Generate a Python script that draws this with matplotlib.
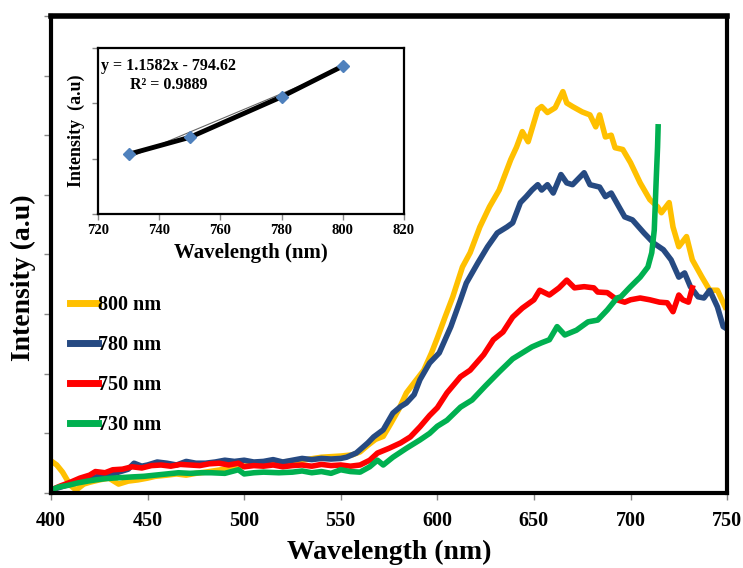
import numpy as np
import matplotlib
matplotlib.use("Agg")
import matplotlib.pyplot as plt

plt.rcParams['font.family'] = ['Liberation Serif', 'DejaVu Serif']
plt.rcParams['font.weight'] = 'bold'

# 800 nm excitation
wl_800 = [400, 403, 406, 410, 413, 417, 420, 425, 430, 435, 440, 445, 450, 454, 460, 465, 470, 475,
          480, 490, 500, 510, 520, 530, 540, 550, 556, 560, 564, 568, 572, 576, 580, 584, 588, 593,
          597, 600, 604, 608, 613, 617, 622, 627, 632, 638, 641, 644, 647, 652, 654, 657, 661, 665,
          667, 670, 675, 679, 682, 684, 687, 690, 692, 696, 700, 705, 710, 714, 716, 720, 722, 725,
          729, 732, 737, 741, 745, 749]
i_800 = [0.54, 0.47, 0.35, 0.13, 0.05, 0.15, 0.18, 0.22, 0.25, 0.15, 0.2, 0.22, 0.25, 0.28, 0.3,
         0.32, 0.3, 0.33, 0.35, 0.4, 0.45, 0.5, 0.52, 0.55, 0.6, 0.62, 0.64, 0.69, 0.8, 0.9, 0.95,
         1.17, 1.4, 1.68, 1.85, 2.06, 2.35, 2.6, 2.95, 3.29, 3.79, 4.03, 4.46, 4.8, 5.08, 5.59, 5.8,
         6.06, 5.89, 6.43, 6.48, 6.38, 6.46, 6.73, 6.54, 6.48, 6.39, 6.34, 6.14, 6.34, 5.97, 6.0,
         5.79, 5.76, 5.54, 5.2, 4.92, 4.8, 4.7, 4.87, 4.46, 4.13, 4.3, 3.91, 3.62, 3.4, 3.4, 3.12]

# 780 nm excitation
wl_780 = [400, 405, 410, 415, 420, 425, 430, 435, 440, 443, 447, 450, 455, 460, 465, 470, 475, 480,
          485, 490, 495, 500, 505, 510, 515, 520, 525, 530, 535, 540, 545, 550, 553, 558, 564, 567,
          572, 577, 581, 584, 588, 591, 596, 601, 607, 612, 615, 621, 626, 631, 636, 639, 643, 646,
          649, 652, 654, 657, 660, 664, 667, 670, 676, 679, 684, 687, 690, 694, 697, 701, 707, 712,
          717, 721, 725, 728, 731, 735, 738, 741, 745, 748, 750]
i_780 = [0.05, 0.1, 0.15, 0.2, 0.25, 0.28, 0.3, 0.35, 0.4, 0.5, 0.45, 0.47, 0.52, 0.5, 0.47, 0.53,
         0.5, 0.5, 0.52, 0.55, 0.53, 0.55, 0.52, 0.53, 0.56, 0.52, 0.55, 0.58, 0.56, 0.58, 0.57,
         0.58, 0.6, 0.67, 0.84, 0.94, 1.06, 1.34, 1.45, 1.51, 1.65, 1.9, 2.18, 2.35, 2.79, 3.24,
         3.52, 3.86, 4.13, 4.36, 4.46, 4.53, 4.87, 4.97, 5.08, 5.17, 5.08, 5.17, 5.03, 5.34, 5.2,
         5.17, 5.37, 5.17, 5.13, 4.97, 5.03, 4.8, 4.63, 4.58, 4.36, 4.19, 4.08, 3.91, 3.62, 3.69,
         3.46, 3.29, 3.27, 3.4, 3.12, 2.79, 2.75]

# 750 nm excitation
wl_750 = [400, 405, 410, 415, 420, 423, 428, 432, 437, 442, 447, 452, 457, 462, 467, 472, 477, 482,
          487, 492, 497, 500, 505, 510, 515, 520, 525, 530, 535, 540, 545, 550, 555, 560, 565, 569,
          575, 581, 586, 591, 596, 600, 605, 612, 617, 624, 629, 634, 639, 644, 650, 653, 658, 663,
          667, 671, 676, 681, 683, 688, 693, 697, 700, 705, 710, 715, 719, 722, 725, 727, 730, 732]
i_750 = [0.05, 0.12, 0.18, 0.25, 0.3, 0.36, 0.34, 0.39, 0.4, 0.44, 0.42, 0.46, 0.47, 0.45, 0.48,
         0.47, 0.46, 0.49, 0.5, 0.47, 0.5, 0.44, 0.46, 0.45, 0.47, 0.44, 0.46, 0.47, 0.45, 0.48,
         0.46, 0.47, 0.45, 0.47, 0.55, 0.67, 0.75, 0.84, 0.94, 1.11, 1.3, 1.43, 1.68, 1.95, 2.06,
         2.32, 2.57, 2.7, 2.95, 3.1, 3.24, 3.4, 3.32, 3.44, 3.57, 3.44, 3.46, 3.44, 3.37, 3.36,
         3.24, 3.2, 3.24, 3.27, 3.24, 3.2, 3.19, 3.04, 3.32, 3.24, 3.2, 3.44]

# 730 nm excitation
wl_730 = [400, 404, 409, 414, 419, 423, 428, 432, 437, 442, 448, 454, 460, 466, 472, 478, 483, 490,
          497, 500, 505, 510, 518, 525, 530, 535, 540, 545, 550, 555, 560, 565, 569, 572, 577, 584,
          591, 596, 600, 605, 612, 618, 625, 632, 639, 644, 649, 654, 658, 662, 666, 672, 678, 683,
          688, 693, 695, 700, 705, 709, 711, 712.3, 713.3, 714, 714.3]
i_730 = [0.05, 0.1, 0.13, 0.17, 0.2, 0.22, 0.24, 0.25, 0.26, 0.27, 0.28, 0.3, 0.32, 0.34, 0.33,
         0.34, 0.34, 0.33, 0.39, 0.32, 0.34, 0.35, 0.34, 0.35, 0.37, 0.34, 0.36, 0.33, 0.39, 0.36,
         0.35, 0.44, 0.55, 0.47, 0.6, 0.75, 0.89, 1.0, 1.12, 1.22, 1.44, 1.56, 1.8, 2.03, 2.25,
         2.35, 2.45, 2.52, 2.57, 2.79, 2.65, 2.73, 2.87, 2.9, 3.07, 3.27, 3.29, 3.46, 3.62, 3.79,
         4.03, 4.41, 5.25, 5.8, 6.14]

# inset: peak intensity vs excitation wavelength
ins_wl = [730, 750, 780, 800]
ins_int = [54, 69.3, 105.9, 133.7]
slope, intercept = 1.1582, -794.62

fig = plt.figure(figsize=(7.43, 5.68), dpi=100)
ax = fig.add_axes([0.0686, 0.132, 0.910, 0.840])

ax.plot(wl_800, i_800, color='#FFC000', lw=4, label='800 nm', solid_joinstyle='round')
ax.plot(wl_780, i_780, color='#264A82', lw=4, label='780 nm', solid_joinstyle='round')
ax.plot(wl_750, i_750, color='#FF0000', lw=4, label='750 nm', solid_joinstyle='round')
ax.plot(wl_730, i_730, color='#00B050', lw=4, label='730 nm', solid_joinstyle='round')

ax.set_xlim(400, 750)
ax.set_ylim(0, 8)
ax.set_xticks(np.arange(400, 751, 50))
ax.set_yticks(np.arange(0, 9, 1))
ax.set_yticklabels([])
ax.tick_params(axis='x', direction='out', length=5, width=1, color='#888888',
               labelsize=14.5, pad=8)
ax.tick_params(axis='y', direction='out', length=5, width=1, color='#888888')
for lab in ax.get_xticklabels():
    lab.set_fontweight('bold')
for s in ax.spines.values():
    s.set_linewidth(3)
ax.spines['top'].set_linewidth(4)

ax.set_xlabel('Wavelength (nm)', fontsize=20, fontweight='bold', labelpad=6)
ax.set_ylabel('Intensity (a.u)', fontsize=20, fontweight='bold')
ax.yaxis.set_label_coords(-0.022, 0.451)

leg = ax.legend(loc='upper left', bbox_to_anchor=(0.013, 0.437), frameon=False,
                handlelength=1.4, handletextpad=0.0, labelspacing=1.0,
                borderpad=0, prop={'weight': 'bold', 'size': 14.5})
for line in leg.get_lines():
    line.set_linewidth(5)

# inset
axi = fig.add_axes([0.1319, 0.6232, 0.4118, 0.2923])
tx = np.array([730, 800])
axi.plot(tx, slope * tx + intercept, color='#666666', lw=0.8)
axi.plot(ins_wl, ins_int, color='black', lw=3.5, solid_joinstyle='round')
axi.plot(ins_wl, ins_int, linestyle='none', marker='D', markersize=6,
         color='#4F81BD', markeredgecolor='#4F81BD')
axi.set_xlim(720, 820)
axi.set_ylim(0, 150)
axi.set_xticks(np.arange(720, 821, 20))
axi.set_yticks([0, 50, 100, 150])
axi.set_yticklabels([])
axi.tick_params(axis='both', direction='out', length=4, width=1, color='#888888', labelsize=10.5)
for lab in axi.get_xticklabels():
    lab.set_fontweight('bold')
for s in axi.spines.values():
    s.set_linewidth(1.6)
axi.set_xlabel('Wavelength (nm)', fontsize=15, fontweight='bold', labelpad=4)
axi.set_ylabel('Intensity  (a.u)', fontsize=13, fontweight='bold', labelpad=2)
axi.text(0.01, 0.89, 'y = 1.1582x - 794.62', transform=axi.transAxes, fontsize=11.5,
         fontweight='bold', va='center', ha='left')
axi.text(0.105, 0.775, 'R² = 0.9889', transform=axi.transAxes, fontsize=11.5,
         fontweight='bold', va='center', ha='left')

fig.savefig('out.png', dpi=100)
